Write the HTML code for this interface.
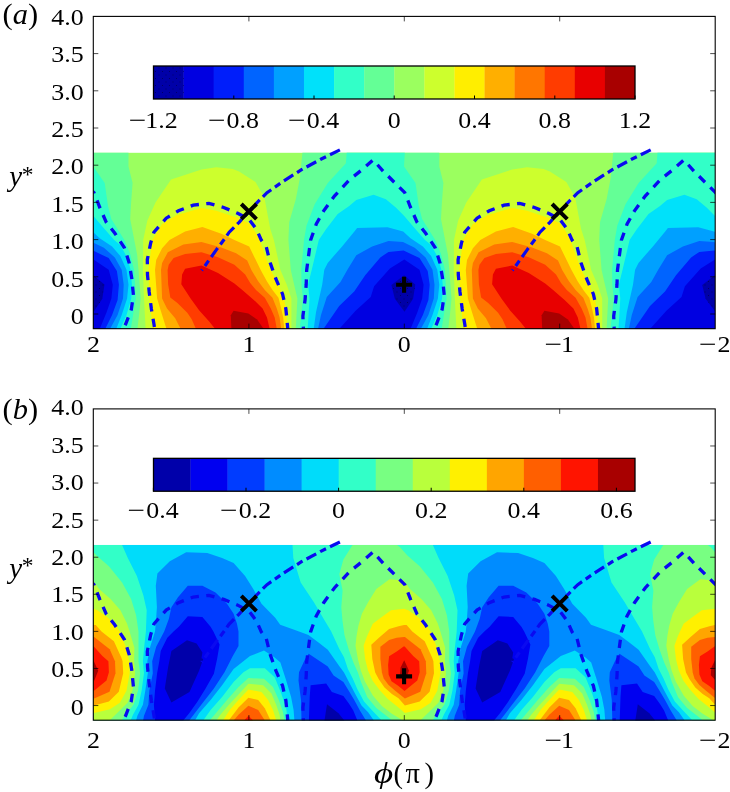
<!DOCTYPE html>
<html><head><meta charset="utf-8"><title>figure</title>
<style>
html,body{margin:0;padding:0;background:#fff}
svg{display:block}
text{font-family:"Liberation Serif","DejaVu Serif",serif;font-size:24px;fill:#000}
.big{font-size:28.5px}
.it{font-style:italic}
.dsh{fill:none;stroke:#0a0af0;stroke-width:3.3;stroke-dasharray:8.4 7.4}
.dd{fill:none;stroke:#0a0af0;stroke-width:3.2;stroke-dasharray:11 4.5 6.5 4.5}
.mk{fill:none;stroke:#000;stroke-width:4}
.mk2{fill:none;stroke:#000;stroke-width:4.1}
</style></head><body>
<svg width="730" height="792" viewBox="0 0 730 792">
<defs>
<pattern id="dots" width="7" height="7" patternUnits="userSpaceOnUse"><rect width="7" height="7" fill="#0000a8"/><rect x="1" y="1" width="1" height="1" fill="#000068"/><rect x="4.5" y="4.5" width="1" height="1" fill="#000068"/></pattern>
<pattern id="dots2" width="7" height="7" patternUnits="userSpaceOnUse"><rect x="1" y="1" width="1" height="1" fill="#000068"/><rect x="4.5" y="4.5" width="1" height="1" fill="#000068"/></pattern>
<clipPath id="clipA"><rect x="93.5" y="146.8" width="621.5" height="182.2"/></clipPath>
</defs>
<rect width="730" height="792" fill="#fff"/>
<text transform="translate(2.6 24.2) scale(1.07 1)" class="big">(<tspan class="it">a</tspan>)</text>
<text transform="translate(2.6 418.6) scale(1.07 1)" class="big">(<tspan class="it">b</tspan>)</text>
<g id="panelA">
<g clip-path="url(#clipA)">
<rect x="93" y="152.8" width="622.5" height="176.2" fill="#9bff5f"/>
<polygon fill="#64ff96" points="-8.4,152.8 -10.9,177.9 -15.0,199.3 -21.6,222.3 -22.4,240.1 -20.0,270.0 -16.7,284.4 -13.4,298.5 -15.0,329.0 137.4,329.0 139.2,314.0 140.7,298.5 138.5,270.0 137.2,255.0 134.3,240.1 130.2,219.0 131.0,204.2 132.6,182.9 128.5,166.4 128.5,152.8"/>
<polygon fill="#32ffc8" points="35.9,152.8 35.1,163.2 17.0,182.9 3.9,204.2 -4.3,225.6 -6.8,240.1 -9.5,270.0 -9.3,284.4 -7.9,298.5 -11.1,329.0 130.8,329.0 133.2,314.0 135.8,298.5 134.1,270.0 130.2,254.0 124.4,240.1 111.3,219.0 108.0,205.9 104.7,182.9 93.2,166.4 94.0,152.8"/>
<polygon fill="#64ff96" points="302.4,152.8 299.9,177.9 295.8,199.3 289.2,222.3 288.4,240.1 290.8,270.0 294.1,284.4 297.4,298.5 295.8,329.0 448.2,329.0 450.0,314.0 451.5,298.5 449.3,270.0 448.0,255.0 445.1,240.1 441.0,219.0 441.8,204.2 443.4,182.9 439.3,166.4 439.3,152.8"/>
<polygon fill="#32ffc8" points="346.7,152.8 345.9,163.2 327.8,182.9 314.7,204.2 306.5,225.6 304.0,240.1 301.3,270.0 301.5,284.4 302.9,298.5 299.7,329.0 441.6,329.0 444.0,314.0 446.6,298.5 444.9,270.0 441.0,254.0 435.2,240.1 422.1,219.0 418.8,205.9 415.5,182.9 404.0,166.4 404.8,152.8"/>
<polygon fill="#64ff96" points="613.2,152.8 610.7,177.9 606.6,199.3 600.0,222.3 599.2,240.1 601.6,270.0 604.9,284.4 608.2,298.5 606.6,329.0 759.0,329.0 760.8,314.0 762.3,298.5 760.1,270.0 758.8,255.0 755.9,240.1 751.8,219.0 752.6,204.2 754.2,182.9 750.1,166.4 750.1,152.8"/>
<polygon fill="#32ffc8" points="657.5,152.8 656.7,163.2 638.6,182.9 625.5,204.2 617.3,225.6 614.8,240.1 612.1,270.0 612.3,284.4 613.7,298.5 610.5,329.0 752.4,329.0 754.8,314.0 757.4,298.5 755.7,270.0 751.8,254.0 746.0,240.1 732.9,219.0 729.6,205.9 726.3,182.9 714.8,166.4 715.6,152.8"/>
<polygon fill="#cdff2d" points="145.6,329.0 144.0,298.5 142.9,270.0 143.2,240.1 147.3,220.7 155.5,202.6 171.1,179.6 201.5,169.4 216.3,167.3 232.8,168.9 239.1,171.4 255.5,182.1 264.5,197.7 267.8,215.8 270.3,228.9 273.9,240.1 280.4,270.0 286.7,284.4 291.4,298.5 291.4,329.0"/>
<polygon fill="#ffee00" points="152.8,329.0 151.1,313.8 149.5,298.5 148.4,270.0 152.2,240.1 162.1,224.0 176.9,214.9 201.5,207.9 216.3,210.8 231.1,215.8 239.1,218.2 248.9,223.2 255.5,232.2 259.6,240.1 270.6,270.0 278.5,284.4 282.2,295.0 284.5,301.0 286.4,311.9 287.3,329.0"/>
<polygon fill="#ffaf00" points="166.5,329.0 161.0,311.6 157.1,298.5 155.0,270.0 156.2,260.0 162.1,248.2 169.5,240.1 185.1,231.4 202.4,226.9 221.3,233.8 234.4,240.1 249.2,246.6 260.7,270.0 267.0,281.5 272.5,290.0 278.5,297.7 281.2,308.6 283.2,317.4 284.3,329.0"/>
<polygon fill="#ff7600" points="180.7,329.0 175.2,318.2 167.0,308.4 162.1,298.5 161.0,270.0 162.1,263.0 167.8,252.3 183.4,244.6 201.5,242.0 221.3,247.4 236.1,253.2 247.2,260.5 251.4,270.0 258.0,281.0 264.8,290.0 272.5,297.7 276.8,308.6 279.6,317.4 281.2,329.0"/>
<polygon fill="#ff3c00" points="196.0,329.0 191.7,319.3 187.3,312.7 177.4,302.9 170.3,297.4 168.1,284.2 167.6,270.0 168.7,264.7 173.6,258.1 185.1,254.0 201.5,252.3 218.0,257.3 234.4,264.7 245.2,274.5 250.2,283.0 256.0,290.0 264.8,297.7 270.8,308.6 274.7,317.4 276.8,329.0"/>
<polygon fill="#e80000" points="215.2,329.0 209.2,321.5 199.3,310.5 190.6,298.5 181.3,284.2 182.1,274.5 185.1,268.8 201.5,265.5 218.0,272.9 234.4,283.6 242.3,290.0 253.8,299.9 262.6,308.6 267.0,317.4 269.7,329.0"/>
<polygon fill="#a80000" points="231.4,329.0 230.8,315.2 233.6,310.8 248.4,313.6 257.1,319.6 263.7,329.0"/>
<polygon fill="#cdff2d" points="456.4,329.0 454.8,298.5 453.7,270.0 454.0,240.1 458.1,220.7 466.3,202.6 481.9,179.6 512.3,169.4 527.1,167.3 543.6,168.9 549.9,171.4 566.3,182.1 575.3,197.7 578.6,215.8 581.1,228.9 584.7,240.1 591.2,270.0 597.5,284.4 602.2,298.5 602.2,329.0"/>
<polygon fill="#ffee00" points="463.6,329.0 461.9,313.8 460.3,298.5 459.2,270.0 463.0,240.1 472.9,224.0 487.7,214.9 512.3,207.9 527.1,210.8 541.9,215.8 549.9,218.2 559.7,223.2 566.3,232.2 570.4,240.1 581.4,270.0 589.3,284.4 593.0,295.0 595.3,301.0 597.2,311.9 598.1,329.0"/>
<polygon fill="#ffaf00" points="477.3,329.0 471.8,311.6 467.9,298.5 465.8,270.0 467.0,260.0 472.9,248.2 480.3,240.1 495.9,231.4 513.2,226.9 532.1,233.8 545.2,240.1 560.0,246.6 571.5,270.0 577.8,281.5 583.3,290.0 589.3,297.7 592.0,308.6 594.0,317.4 595.1,329.0"/>
<polygon fill="#ff7600" points="491.5,329.0 486.0,318.2 477.8,308.4 472.9,298.5 471.8,270.0 472.9,263.0 478.6,252.3 494.2,244.6 512.3,242.0 532.1,247.4 546.9,253.2 558.0,260.5 562.2,270.0 568.8,281.0 575.6,290.0 583.3,297.7 587.6,308.6 590.4,317.4 592.0,329.0"/>
<polygon fill="#ff3c00" points="506.8,329.0 502.5,319.3 498.1,312.7 488.2,302.9 481.1,297.4 478.9,284.2 478.4,270.0 479.5,264.7 484.4,258.1 495.9,254.0 512.3,252.3 528.8,257.3 545.2,264.7 556.0,274.5 561.0,283.0 566.8,290.0 575.6,297.7 581.6,308.6 585.5,317.4 587.6,329.0"/>
<polygon fill="#e80000" points="526.0,329.0 520.0,321.5 510.1,310.5 501.4,298.5 492.1,284.2 492.9,274.5 495.9,268.8 512.3,265.5 528.8,272.9 545.2,283.6 553.1,290.0 564.6,299.9 573.4,308.6 577.8,317.4 580.5,329.0"/>
<polygon fill="#a80000" points="542.2,329.0 541.6,315.2 544.4,310.8 559.2,313.6 567.9,319.6 574.5,329.0"/>
<polygon fill="#00e1fa" points="-3.1,329.0 -1.3,298.5 -2.7,284.4 0.9,270.0 8.0,240.1 15.4,228.9 26.9,214.1 38.4,205.9 45.5,200.1 62.8,194.7 75.1,199.3 85.0,207.5 93.2,215.8 103.0,227.3 114.2,240.1 120.3,245.1 127.1,257.4 130.6,269.7 131.9,284.8 131.3,298.5 126.5,314.9 120.3,329.0"/>
<polygon fill="#00a0ff" points="2.9,329.0 5.2,312.2 11.4,284.8 13.5,269.7 16.9,262.9 31.3,246.4 43.6,231.4 46.3,228.1 76.7,227.3 92.4,231.4 99.7,238.2 112.1,246.4 120.3,256.0 126.5,269.7 128.5,284.8 127.1,298.5 121.7,314.9 116.2,329.0"/>
<polygon fill="#0064ff" points="7.2,329.0 10.2,315.0 16.0,297.1 29.7,282.1 36.6,269.7 45.5,255.3 61.3,246.4 77.7,241.0 92.2,242.0 103.9,247.8 114.8,257.4 121.7,269.7 123.7,284.8 123.0,298.5 117.6,314.9 110.0,329.0"/>
<polygon fill="#001efa" points="12.6,329.0 28.4,306.0 43.4,291.6 54.4,275.2 69.5,257.4 77.7,251.9 92.8,250.5 108.7,258.1 116.9,271.1 118.9,284.8 117.6,299.9 112.1,314.9 105.2,329.0"/>
<polygon fill="#0000e1" points="28.4,329.0 44.8,310.8 59.9,297.1 63.3,286.2 79.1,268.4 93.5,259.5 108.7,269.7 112.8,284.8 111.4,298.5 106.6,312.2 99.7,329.0"/>
<polygon fill="url(#dots)" points="80.6,285.0 93.3,275.2 104.5,284.6 102.3,298.8 93.7,311.7 84.0,298.8"/>
<polygon fill="#00e1fa" points="307.7,329.0 309.5,298.5 308.1,284.4 311.7,270.0 318.8,240.1 326.2,228.9 337.7,214.1 349.2,205.9 356.3,200.1 373.6,194.7 385.9,199.3 395.8,207.5 404.0,215.8 413.8,227.3 425.0,240.1 431.1,245.1 437.9,257.4 441.4,269.7 442.7,284.8 442.1,298.5 437.3,314.9 431.1,329.0"/>
<polygon fill="#00a0ff" points="313.7,329.0 316.0,312.2 322.2,284.8 324.3,269.7 327.7,262.9 342.1,246.4 354.4,231.4 357.1,228.1 387.5,227.3 403.2,231.4 410.5,238.2 422.9,246.4 431.1,256.0 437.3,269.7 439.3,284.8 437.9,298.5 432.5,314.9 427.0,329.0"/>
<polygon fill="#0064ff" points="318.0,329.0 321.0,315.0 326.8,297.1 340.5,282.1 347.4,269.7 356.3,255.3 372.1,246.4 388.5,241.0 403.0,242.0 414.7,247.8 425.6,257.4 432.5,269.7 434.5,284.8 433.8,298.5 428.4,314.9 420.8,329.0"/>
<polygon fill="#001efa" points="323.4,329.0 339.2,306.0 354.2,291.6 365.2,275.2 380.3,257.4 388.5,251.9 403.6,250.5 419.5,258.1 427.7,271.1 429.7,284.8 428.4,299.9 422.9,314.9 416.0,329.0"/>
<polygon fill="#0000e1" points="339.2,329.0 355.6,310.8 370.7,297.1 374.1,286.2 389.9,268.4 404.3,259.5 419.5,269.7 423.6,284.8 422.2,298.5 417.4,312.2 410.5,329.0"/>
<polygon fill="url(#dots)" points="391.4,285.0 404.1,275.2 415.3,284.6 413.1,298.8 404.5,311.7 394.8,298.8"/>
<polygon fill="#00e1fa" points="618.5,329.0 620.3,298.5 618.9,284.4 622.5,270.0 629.6,240.1 637.0,228.9 648.5,214.1 660.0,205.9 667.1,200.1 684.4,194.7 696.7,199.3 706.6,207.5 714.8,215.8 724.6,227.3 735.8,240.1 741.9,245.1 748.7,257.4 752.2,269.7 753.5,284.8 752.9,298.5 748.1,314.9 741.9,329.0"/>
<polygon fill="#00a0ff" points="624.5,329.0 626.8,312.2 633.0,284.8 635.1,269.7 638.5,262.9 652.9,246.4 665.2,231.4 667.9,228.1 698.3,227.3 714.0,231.4 721.3,238.2 733.7,246.4 741.9,256.0 748.1,269.7 750.1,284.8 748.7,298.5 743.3,314.9 737.8,329.0"/>
<polygon fill="#0064ff" points="628.8,329.0 631.8,315.0 637.6,297.1 651.3,282.1 658.2,269.7 667.1,255.3 682.9,246.4 699.3,241.0 713.8,242.0 725.5,247.8 736.4,257.4 743.3,269.7 745.3,284.8 744.6,298.5 739.2,314.9 731.6,329.0"/>
<polygon fill="#001efa" points="634.2,329.0 650.0,306.0 665.0,291.6 676.0,275.2 691.1,257.4 699.3,251.9 714.4,250.5 730.3,258.1 738.5,271.1 740.5,284.8 739.2,299.9 733.7,314.9 726.8,329.0"/>
<polygon fill="#0000e1" points="650.0,329.0 666.4,310.8 681.5,297.1 684.9,286.2 700.7,268.4 715.1,259.5 730.3,269.7 734.4,284.8 733.0,298.5 728.2,312.2 721.3,329.0"/>
<polygon fill="url(#dots)" points="702.2,285.0 714.9,275.2 726.1,284.6 723.9,298.8 715.3,311.7 705.6,298.8"/>
<polyline class="dsh" stroke-dashoffset="13.8" points="154.7,329.0 153.9,323.8 151.4,309.0 149.2,292.0 147.5,275.0 147.3,259.7 150.6,243.3 153.9,232.2 166.2,218.2 178.5,210.8 193.3,205.1 208.9,203.4 223.7,207.5 237.7,213.3 249.2,219.5 256.3,228.9 261.3,240.1 266.2,246.6 270.3,263.0 276.1,279.5 282.6,294.2 285.9,309.0 287.8,329.0"/>
<polyline class="dd" points="339.9,149.9 321.3,159.0 301.5,169.7 283.4,181.2 267.0,192.7 257.1,202.6 248.9,211.6 239.1,222.3 229.2,232.2 223.7,240.0 216.3,249.9 208.1,261.4 201.7,270.5"/>
<polyline class="dsh" stroke-dashoffset="13.8" points="465.5,329.0 464.7,323.8 462.2,309.0 460.0,292.0 458.3,275.0 458.1,259.7 461.4,243.3 464.7,232.2 477.0,218.2 489.3,210.8 504.1,205.1 519.7,203.4 534.5,207.5 548.5,213.3 560.0,219.5 567.1,228.9 572.1,240.1 577.0,246.6 581.1,263.0 586.9,279.5 593.4,294.2 596.7,309.0 598.6,329.0"/>
<polyline class="dd" points="650.7,149.9 632.1,159.0 612.3,169.7 594.2,181.2 577.8,192.7 567.9,202.6 559.7,211.6 549.9,222.3 540.0,232.2 534.5,240.0 527.1,249.9 518.9,261.4 512.5,270.5"/>
<polyline class="dsh" stroke-dashoffset="6" points="-7.4,329.0 -7.9,316.0 -5.7,299.6 -4.6,284.2 -4.1,270.0 -0.2,240.1 5.5,224.0 12.9,210.8 23.6,196.0 38.9,179.6 51.3,169.7 62.3,159.9 72.6,171.4 84.1,182.9 94.0,192.7 99.8,207.5 106.3,222.3 114.7,233.0 124.4,247.8 129.2,262.9 131.7,277.9 133.4,295.0 131.3,309.5 125.7,324.0 123.2,329.0"/>
<polyline class="dsh" stroke-dashoffset="6" points="303.4,329.0 302.9,316.0 305.1,299.6 306.2,284.2 306.7,270.0 310.6,240.1 316.3,224.0 323.7,210.8 334.4,196.0 349.7,179.6 362.1,169.7 373.1,159.9 383.4,171.4 394.9,182.9 404.8,192.7 410.6,207.5 417.1,222.3 425.5,233.0 435.2,247.8 440.0,262.9 442.5,277.9 444.2,295.0 442.1,309.5 436.5,324.0 434.0,329.0"/>
<polyline class="dsh" stroke-dashoffset="6" points="614.2,329.0 613.7,316.0 615.9,299.6 617.0,284.2 617.5,270.0 621.4,240.1 627.1,224.0 634.5,210.8 645.2,196.0 660.5,179.6 672.9,169.7 683.9,159.9 694.2,171.4 705.7,182.9 715.6,192.7 721.4,207.5 727.9,222.3 736.3,233.0 746.0,247.8 750.8,262.9 753.3,277.9 755.0,295.0 752.9,309.5 747.3,324.0 744.8,329.0"/>
<path class="mk" d="M241.3 204.0L256.5 219.2M241.3 219.2L256.5 204.0"/>
<path class="mk" d="M552.1 204.0L567.3 219.2M552.1 219.2L567.3 204.0"/>
<path class="mk2" d="M396.1 284.7L412.1 284.7M404.1 276.7L404.1 292.7"/>
</g>
<rect x="153.50" y="66.0" width="30.39" height="33.0" fill="#0000a8"/>
<rect x="183.59" y="66.0" width="30.39" height="33.0" fill="#0000e1"/>
<rect x="213.69" y="66.0" width="30.39" height="33.0" fill="#001efa"/>
<rect x="243.78" y="66.0" width="30.39" height="33.0" fill="#0064ff"/>
<rect x="273.88" y="66.0" width="30.39" height="33.0" fill="#00a0ff"/>
<rect x="303.97" y="66.0" width="30.39" height="33.0" fill="#00e1fa"/>
<rect x="334.06" y="66.0" width="30.39" height="33.0" fill="#32ffc8"/>
<rect x="364.16" y="66.0" width="30.39" height="33.0" fill="#64ff96"/>
<rect x="394.25" y="66.0" width="30.39" height="33.0" fill="#9bff5f"/>
<rect x="424.34" y="66.0" width="30.39" height="33.0" fill="#cdff2d"/>
<rect x="454.44" y="66.0" width="30.39" height="33.0" fill="#ffee00"/>
<rect x="484.53" y="66.0" width="30.39" height="33.0" fill="#ffaf00"/>
<rect x="514.62" y="66.0" width="30.39" height="33.0" fill="#ff7600"/>
<rect x="544.72" y="66.0" width="30.39" height="33.0" fill="#ff3c00"/>
<rect x="574.81" y="66.0" width="30.39" height="33.0" fill="#e80000"/>
<rect x="604.91" y="66.0" width="30.09" height="33.0" fill="#a80000"/>
<rect x="153.50" y="66.0" width="30.09" height="33.0" fill="url(#dots2)"/>
<rect x="153.5" y="66.0" width="481.5" height="33.0" fill="none" stroke="#000" stroke-width="1.3"/>
<text transform="translate(128.7 127.7) scale(1.3 1)">−</text><text transform="translate(145.2 127.7) scale(1.080 1)">1.2</text>
<text transform="translate(207.9 127.7) scale(1.3 1)">−</text><text transform="translate(226.6 127.7) scale(1.080 1)">0.8</text>
<text transform="translate(288.1 127.7) scale(1.3 1)">−</text><text transform="translate(306.8 127.7) scale(1.080 1)">0.4</text>
<text transform="translate(394.2 127.7) scale(1.080 1)" text-anchor="middle">0</text>
<text transform="translate(474.5 127.7) scale(1.080 1)" text-anchor="middle">0.4</text>
<text transform="translate(554.8 127.7) scale(1.080 1)" text-anchor="middle">0.8</text>
<text transform="translate(635.0 127.7) scale(1.080 1)" text-anchor="middle">1.2</text>
<path d="M153.5 99.0v-3.5M233.8 99.0v-3.5M314.0 99.0v-3.5M394.2 99.0v-3.5M474.5 99.0v-3.5M554.8 99.0v-3.5M635.0 99.0v-3.5" stroke="#000" stroke-width="1" fill="none"/>
<rect x="93.3" y="16.4" width="621.9" height="312.3" fill="none" stroke="#000" stroke-width="1.1"/>
<path d="M93.3 53.6h5M715.2 53.6h-5M93.3 90.8h5M715.2 90.8h-5M93.3 128.0h5M715.2 128.0h-5M93.3 165.2h5M715.2 165.2h-5M93.3 202.4h5M715.2 202.4h-5M93.3 239.6h5M715.2 239.6h-5M93.3 276.8h5M715.2 276.8h-5M93.3 314.0h5M715.2 314.0h-5M248.9 328.6v-5M248.9 16.4v5M404.3 328.6v-5M404.3 16.4v5M559.7 328.6v-5M559.7 16.4v5" stroke="#000" stroke-width="0.7" fill="none"/>
</g>
<g id="panelB" transform="translate(0 408.9) scale(1 0.9968) translate(0 -16.4)">
<g clip-path="url(#clipA)">
<rect x="93" y="152.9" width="622.5" height="176.1" fill="#00dcfa"/>
<polygon fill="#008cff" points="136.1,329.0 137.4,324.3 142.9,313.3 145.3,299.1 147.8,281.6 147.3,269.5 150.2,255.0 155.0,239.6 155.8,231.7 156.9,215.3 155.8,193.9 157.4,181.6 169.8,169.2 186.2,160.2 207.3,161.0 222.1,165.9 233.6,170.9 245.1,184.0 253.3,197.2 261.5,212.0 275.2,226.0 280.2,233.0 294.2,238.0 308.5,243.3 318.2,250.5 327.8,258.0 339.2,274.2 344.0,280.9 349.2,291.0 355.8,303.3 361.5,314.0 368.1,320.6 373.9,329.0"/>
<polygon fill="#003cff" points="143.1,329.0 144.0,324.3 148.4,313.3 149.3,299.1 152.8,281.6 152.2,269.5 156.2,255.0 164.2,239.6 168.9,226.8 171.4,215.3 178.0,205.4 187.8,193.9 202.4,193.9 215.5,200.5 227.0,212.0 233.6,221.8 236.9,231.7 238.5,239.6 238.5,254.3 232.8,264.2 224.5,280.6 213.9,297.0 202.4,311.8 189.2,329.0"/>
<polygon fill="#003cff" points="301.5,329.0 301.0,308.5 298.5,288.8 299.0,280.6 304.8,268.0 308.7,262.0 327.8,274.8 333.6,283.9 343.4,290.5 349.2,300.0 354.1,308.3 359.9,318.9 366.0,329.0"/>
<polygon fill="#0000f0" points="155.0,329.0 153.9,313.3 155.0,299.1 157.1,281.6 159.3,269.5 160.7,259.2 167.3,246.1 173.8,239.5 178.8,235.0 187.8,224.3 202.4,225.1 210.6,235.0 213.4,239.6 219.6,252.7 217.1,267.4 213.9,282.2 205.6,297.0 197.4,310.2 189.2,321.7 183.2,329.0"/>
<polygon fill="#0000f0" points="308.9,329.0 309.7,305.3 310.6,293.7 326.2,291.8 331.9,300.3 343.4,304.4 349.2,312.4 353.3,318.9 357.4,329.0"/>
<polygon fill="#0000aa" points="171.4,259.2 187.0,248.5 196.6,251.8 202.4,260.9 201.5,266.6 203.2,267.4 199.1,279.0 192.5,293.7 189.5,300.3 171.4,311.0 164.8,297.0 168.1,275.7"/>
<polygon fill="#0000aa" points="324.5,329.0 327.0,312.7 338.5,321.7 344.3,329.0"/>
<polygon fill="#00dcfa" points="195.0,329.0 199.1,321.7 210.6,308.5 222.1,293.7 233.6,277.3 250.0,264.2 264.0,258.9 274.7,265.8 280.4,270.7 286.2,288.8 291.1,305.3 293.6,318.4 294.4,329.0"/>
<polygon fill="#32ffc8" points="203.2,329.0 210.6,318.4 222.1,305.3 233.6,290.5 243.4,280.6 250.0,276.5 264.8,276.5 274.7,285.5 281.3,302.0 286.2,316.8 287.8,329.0"/>
<polygon fill="#78ff82" points="209.7,329.0 217.1,320.1 227.0,308.5 238.5,295.4 248.4,286.4 264.0,287.2 273.0,295.4 278.8,308.5 282.9,320.1 284.5,329.0"/>
<polygon fill="#b9ff3c" points="216.3,329.0 220.4,323.3 228.7,313.5 238.5,302.8 248.4,292.1 263.2,293.7 271.4,302.0 276.3,313.5 279.6,323.3 280.4,329.0"/>
<polygon fill="#fff000" points="222.9,329.0 230.3,317.6 238.5,308.5 248.4,297.9 261.5,300.3 268.1,308.5 273.0,318.4 276.3,329.0"/>
<polygon fill="#ffa500" points="228.7,329.0 238.5,315.9 248.4,306.1 258.2,308.5 264.8,316.8 270.6,329.0"/>
<polygon fill="#ff5f00" points="233.6,329.0 238.5,323.3 248.4,314.3 258.2,318.4 264.8,329.0"/>
<polygon fill="#ff1400" points="244.2,329.0 248.4,324.2 253.2,329.0"/>
<polygon fill="#008cff" points="446.9,329.0 448.2,324.3 453.7,313.3 456.1,299.1 458.6,281.6 458.1,269.5 461.0,255.0 465.8,239.6 466.6,231.7 467.7,215.3 466.6,193.9 468.2,181.6 480.6,169.2 497.0,160.2 518.1,161.0 532.9,165.9 544.4,170.9 555.9,184.0 564.1,197.2 572.3,212.0 586.0,226.0 591.0,233.0 605.0,238.0 619.3,243.3 629.0,250.5 638.6,258.0 650.0,274.2 654.8,280.9 660.0,291.0 666.6,303.3 672.3,314.0 678.9,320.6 684.7,329.0"/>
<polygon fill="#003cff" points="453.9,329.0 454.8,324.3 459.2,313.3 460.1,299.1 463.6,281.6 463.0,269.5 467.0,255.0 475.0,239.6 479.7,226.8 482.2,215.3 488.8,205.4 498.6,193.9 513.2,193.9 526.3,200.5 537.8,212.0 544.4,221.8 547.7,231.7 549.3,239.6 549.3,254.3 543.6,264.2 535.3,280.6 524.7,297.0 513.2,311.8 500.0,329.0"/>
<polygon fill="#003cff" points="612.3,329.0 611.8,308.5 609.3,288.8 609.8,280.6 615.6,268.0 619.5,262.0 638.6,274.8 644.4,283.9 654.2,290.5 660.0,300.0 664.9,308.3 670.7,318.9 676.8,329.0"/>
<polygon fill="#0000f0" points="465.8,329.0 464.7,313.3 465.8,299.1 467.9,281.6 470.1,269.5 471.5,259.2 478.1,246.1 484.6,239.5 489.6,235.0 498.6,224.3 513.2,225.1 521.4,235.0 524.2,239.6 530.4,252.7 527.9,267.4 524.7,282.2 516.4,297.0 508.2,310.2 500.0,321.7 494.0,329.0"/>
<polygon fill="#0000f0" points="619.7,329.0 620.5,305.3 621.4,293.7 637.0,291.8 642.7,300.3 654.2,304.4 660.0,312.4 664.1,318.9 668.2,329.0"/>
<polygon fill="#0000aa" points="482.2,259.2 497.8,248.5 507.4,251.8 513.2,260.9 512.3,266.6 514.0,267.4 509.9,279.0 503.3,293.7 500.3,300.3 482.2,311.0 475.6,297.0 478.9,275.7"/>
<polygon fill="#0000aa" points="635.3,329.0 637.8,312.7 649.3,321.7 655.1,329.0"/>
<polygon fill="#00dcfa" points="505.8,329.0 509.9,321.7 521.4,308.5 532.9,293.7 544.4,277.3 560.8,264.2 574.8,258.9 585.5,265.8 591.2,270.7 597.0,288.8 601.9,305.3 604.4,318.4 605.2,329.0"/>
<polygon fill="#32ffc8" points="514.0,329.0 521.4,318.4 532.9,305.3 544.4,290.5 554.2,280.6 560.8,276.5 575.6,276.5 585.5,285.5 592.1,302.0 597.0,316.8 598.6,329.0"/>
<polygon fill="#78ff82" points="520.5,329.0 527.9,320.1 537.8,308.5 549.3,295.4 559.2,286.4 574.8,287.2 583.8,295.4 589.6,308.5 593.7,320.1 595.3,329.0"/>
<polygon fill="#b9ff3c" points="527.1,329.0 531.2,323.3 539.5,313.5 549.3,302.8 559.2,292.1 574.0,293.7 582.2,302.0 587.1,313.5 590.4,323.3 591.2,329.0"/>
<polygon fill="#fff000" points="533.7,329.0 541.1,317.6 549.3,308.5 559.2,297.9 572.3,300.3 578.9,308.5 583.8,318.4 587.1,329.0"/>
<polygon fill="#ffa500" points="539.5,329.0 549.3,315.9 559.2,306.1 569.0,308.5 575.6,316.8 581.4,329.0"/>
<polygon fill="#ff5f00" points="544.4,329.0 549.3,323.3 559.2,314.3 569.0,318.4 575.6,329.0"/>
<polygon fill="#ff1400" points="555.0,329.0 559.2,324.2 564.0,329.0"/>
<polygon fill="#32ffc8" points="-18.3,152.9 -17.5,165.9 -10.1,190.6 3.1,210.3 13.7,228.4 20.3,239.5 28.4,256.9 33.2,265.5 37.0,277.0 41.8,286.6 46.6,297.6 53.2,309.9 61.4,318.9 70.9,329.0 130.6,329.0 133.0,323.2 138.5,313.3 141.6,299.1 144.0,281.6 142.9,269.5 144.2,255.0 145.9,239.6 146.7,218.5 143.4,203.7 136.9,184.0 127.8,165.9 122.1,152.9"/>
<polygon fill="#78ff82" points="41.7,152.9 32.6,167.6 28.5,182.4 31.8,198.8 30.5,215.3 31.7,229.1 33.7,243.5 38.0,257.9 42.8,271.3 47.1,280.9 50.2,290.5 56.5,305.8 65.5,316.5 78.7,326.7 81.2,329.0 121.5,329.0 126.5,322.1 133.6,313.3 138.0,299.1 140.2,281.6 138.5,269.5 138.5,255.0 138.5,239.6 136.1,223.5 131.1,207.0 122.1,190.6 108.9,174.2 96.6,163.5 89.2,155.3 86.2,152.9"/>
<polygon fill="#b9ff3c" points="93.2,188.5 78.7,187.3 65.5,197.2 57.3,210.3 51.1,222.0 47.6,233.9 45.7,244.4 44.7,254.0 47.1,267.4 50.0,278.9 54.1,290.0 62.2,304.2 71.3,314.8 81.1,322.2 88.5,326.7 91.7,329.0 109.5,329.0 117.7,321.0 127.6,311.1 132.5,299.1 135.2,281.6 134.1,269.5 134.4,255.9 129.5,239.5 127.0,231.7 120.4,218.5 110.6,207.0 99.1,197.2"/>
<polygon fill="#fff000" points="93.2,216.9 80.3,218.5 70.6,225.5 62.0,232.0 56.2,244.4 52.8,254.0 54.3,267.4 57.2,278.9 61.8,289.0 68.8,298.4 77.0,307.4 86.1,314.8 94.1,321.5 110.0,317.7 119.9,311.1 126.5,299.1 129.7,281.6 129.2,269.5 126.2,255.9 119.6,239.5 115.5,233.3 107.3,225.1 97.4,218.5"/>
<polygon fill="#ffa500" points="93.2,233.3 87.8,234.4 78.3,237.2 68.7,245.4 60.5,253.1 61.5,267.4 64.4,280.9 68.0,287.7 73.7,295.9 81.1,302.5 87.7,306.6 94.1,314.0 108.9,310.0 118.8,300.2 123.2,281.6 122.6,269.5 121.3,265.8 113.9,249.4 101.5,239.6 95.8,233.3"/>
<polygon fill="#ff5f00" points="93.2,245.3 85.9,245.9 78.3,248.3 69.6,255.0 69.6,267.4 71.1,280.9 72.9,286.9 77.8,293.5 84.4,299.2 94.1,307.0 109.5,300.2 115.5,281.6 115.0,269.5 109.7,257.6 94.1,245.3"/>
<polygon fill="#ff1400" points="93.2,254.5 85.9,259.8 78.3,264.6 77.3,273.2 77.8,282.8 80.7,289.5 87.7,294.3 93.7,299.5 106.5,288.8 108.9,280.6 108.4,269.5 102.4,264.2 94.1,255.1"/>
<polygon fill="#a80000" points="93.4,268.5 98.2,279.0 94.2,289.0 89.2,283.5 89.7,276.0"/>
<polygon fill="#32ffc8" points="292.5,152.9 293.3,165.9 300.7,190.6 313.9,210.3 324.5,228.4 331.1,239.5 339.2,256.9 344.0,265.5 347.8,277.0 352.6,286.6 357.4,297.6 364.0,309.9 372.2,318.9 381.7,329.0 441.4,329.0 443.8,323.2 449.3,313.3 452.4,299.1 454.8,281.6 453.7,269.5 455.0,255.0 456.7,239.6 457.5,218.5 454.2,203.7 447.7,184.0 438.6,165.9 432.9,152.9"/>
<polygon fill="#78ff82" points="352.5,152.9 343.4,167.6 339.3,182.4 342.6,198.8 341.3,215.3 342.5,229.1 344.5,243.5 348.8,257.9 353.6,271.3 357.9,280.9 361.0,290.5 367.3,305.8 376.3,316.5 389.5,326.7 392.0,329.0 432.3,329.0 437.3,322.1 444.4,313.3 448.8,299.1 451.0,281.6 449.3,269.5 449.3,255.0 449.3,239.6 446.9,223.5 441.9,207.0 432.9,190.6 419.7,174.2 407.4,163.5 400.0,155.3 397.0,152.9"/>
<polygon fill="#b9ff3c" points="404.0,188.5 389.5,187.3 376.3,197.2 368.1,210.3 361.9,222.0 358.4,233.9 356.5,244.4 355.5,254.0 357.9,267.4 360.8,278.9 364.9,290.0 373.0,304.2 382.1,314.8 391.9,322.2 399.3,326.7 402.5,329.0 420.3,329.0 428.5,321.0 438.4,311.1 443.3,299.1 446.0,281.6 444.9,269.5 445.2,255.9 440.3,239.5 437.8,231.7 431.2,218.5 421.4,207.0 409.9,197.2"/>
<polygon fill="#fff000" points="404.0,216.9 391.1,218.5 381.4,225.5 372.8,232.0 367.0,244.4 363.6,254.0 365.1,267.4 368.0,278.9 372.6,289.0 379.6,298.4 387.8,307.4 396.9,314.8 404.9,321.5 420.8,317.7 430.7,311.1 437.3,299.1 440.5,281.6 440.0,269.5 437.0,255.9 430.4,239.5 426.3,233.3 418.1,225.1 408.2,218.5"/>
<polygon fill="#ffa500" points="404.0,233.3 398.6,234.4 389.1,237.2 379.5,245.4 371.3,253.1 372.3,267.4 375.2,280.9 378.8,287.7 384.5,295.9 391.9,302.5 398.5,306.6 404.9,314.0 419.7,310.0 429.6,300.2 434.0,281.6 433.4,269.5 432.1,265.8 424.7,249.4 412.3,239.6 406.6,233.3"/>
<polygon fill="#ff5f00" points="404.0,245.3 396.7,245.9 389.1,248.3 380.4,255.0 380.4,267.4 381.9,280.9 383.7,286.9 388.6,293.5 395.2,299.2 404.9,307.0 420.3,300.2 426.3,281.6 425.8,269.5 420.5,257.6 404.9,245.3"/>
<polygon fill="#ff1400" points="404.0,254.5 396.7,259.8 389.1,264.6 388.1,273.2 388.6,282.8 391.5,289.5 398.5,294.3 404.5,299.5 417.3,288.8 419.7,280.6 419.2,269.5 413.2,264.2 404.9,255.1"/>
<polygon fill="#a80000" points="404.2,268.5 409.0,279.0 405.0,289.0 400.0,283.5 400.5,276.0"/>
<polygon fill="#32ffc8" points="603.3,152.9 604.1,165.9 611.5,190.6 624.7,210.3 635.3,228.4 641.9,239.5 650.0,256.9 654.8,265.5 658.6,277.0 663.4,286.6 668.2,297.6 674.8,309.9 683.0,318.9 692.5,329.0 752.2,329.0 754.6,323.2 760.1,313.3 763.2,299.1 765.6,281.6 764.5,269.5 765.8,255.0 767.5,239.6 768.3,218.5 765.0,203.7 758.5,184.0 749.4,165.9 743.7,152.9"/>
<polygon fill="#78ff82" points="663.3,152.9 654.2,167.6 650.1,182.4 653.4,198.8 652.1,215.3 653.3,229.1 655.3,243.5 659.6,257.9 664.4,271.3 668.7,280.9 671.8,290.5 678.1,305.8 687.1,316.5 700.3,326.7 702.8,329.0 743.1,329.0 748.1,322.1 755.2,313.3 759.6,299.1 761.8,281.6 760.1,269.5 760.1,255.0 760.1,239.6 757.7,223.5 752.7,207.0 743.7,190.6 730.5,174.2 718.2,163.5 710.8,155.3 707.8,152.9"/>
<polygon fill="#b9ff3c" points="714.8,188.5 700.3,187.3 687.1,197.2 678.9,210.3 672.7,222.0 669.2,233.9 667.3,244.4 666.3,254.0 668.7,267.4 671.6,278.9 675.7,290.0 683.8,304.2 692.9,314.8 702.7,322.2 710.1,326.7 713.3,329.0 731.1,329.0 739.3,321.0 749.2,311.1 754.1,299.1 756.8,281.6 755.7,269.5 756.0,255.9 751.1,239.5 748.6,231.7 742.0,218.5 732.2,207.0 720.7,197.2"/>
<polygon fill="#fff000" points="714.8,216.9 701.9,218.5 692.2,225.5 683.6,232.0 677.8,244.4 674.4,254.0 675.9,267.4 678.8,278.9 683.4,289.0 690.4,298.4 698.6,307.4 707.7,314.8 715.7,321.5 731.6,317.7 741.5,311.1 748.1,299.1 751.3,281.6 750.8,269.5 747.8,255.9 741.2,239.5 737.1,233.3 728.9,225.1 719.0,218.5"/>
<polygon fill="#ffa500" points="714.8,233.3 709.4,234.4 699.9,237.2 690.3,245.4 682.1,253.1 683.1,267.4 686.0,280.9 689.6,287.7 695.3,295.9 702.7,302.5 709.3,306.6 715.7,314.0 730.5,310.0 740.4,300.2 744.8,281.6 744.2,269.5 742.9,265.8 735.5,249.4 723.1,239.6 717.4,233.3"/>
<polygon fill="#ff5f00" points="714.8,245.3 707.5,245.9 699.9,248.3 691.2,255.0 691.2,267.4 692.7,280.9 694.5,286.9 699.4,293.5 706.0,299.2 715.7,307.0 731.1,300.2 737.1,281.6 736.6,269.5 731.3,257.6 715.7,245.3"/>
<polygon fill="#ff1400" points="714.8,254.5 707.5,259.8 699.9,264.6 698.9,273.2 699.4,282.8 702.3,289.5 709.3,294.3 715.3,299.5 728.1,288.8 730.5,280.6 730.0,269.5 724.0,264.2 715.7,255.1"/>
<polygon fill="#a80000" points="715.0,268.5 719.8,279.0 715.8,289.0 710.8,283.5 711.3,276.0"/>
<polyline class="dsh" stroke-dashoffset="13.8" points="154.7,329.0 153.9,323.8 151.4,309.0 149.2,292.0 147.5,275.0 147.3,259.7 150.6,243.3 153.9,232.2 166.2,218.2 178.5,210.8 193.3,205.1 208.9,203.4 223.7,207.5 237.7,213.3 249.2,219.5 256.3,228.9 261.3,240.1 266.2,246.6 270.3,263.0 276.1,279.5 282.6,294.2 285.9,309.0 287.8,329.0"/>
<polyline class="dd" points="339.9,149.9 321.3,159.0 301.5,169.7 283.4,181.2 267.0,192.7 257.1,202.6 248.9,211.6 239.1,222.3 229.2,232.2 223.7,240.0 216.3,249.9 208.1,261.4 201.7,270.5"/>
<polyline class="dsh" stroke-dashoffset="13.8" points="465.5,329.0 464.7,323.8 462.2,309.0 460.0,292.0 458.3,275.0 458.1,259.7 461.4,243.3 464.7,232.2 477.0,218.2 489.3,210.8 504.1,205.1 519.7,203.4 534.5,207.5 548.5,213.3 560.0,219.5 567.1,228.9 572.1,240.1 577.0,246.6 581.1,263.0 586.9,279.5 593.4,294.2 596.7,309.0 598.6,329.0"/>
<polyline class="dd" points="650.7,149.9 632.1,159.0 612.3,169.7 594.2,181.2 577.8,192.7 567.9,202.6 559.7,211.6 549.9,222.3 540.0,232.2 534.5,240.0 527.1,249.9 518.9,261.4 512.5,270.5"/>
<polyline class="dsh" stroke-dashoffset="6" points="-7.4,329.0 -7.9,316.0 -5.7,299.6 -4.6,284.2 -4.1,270.0 -0.2,240.1 5.5,224.0 12.9,210.8 23.6,196.0 38.9,179.6 51.3,169.7 62.3,159.9 72.6,171.4 84.1,182.9 94.0,192.7 99.8,207.5 106.3,222.3 114.7,233.0 124.4,247.8 129.2,262.9 131.7,277.9 133.4,295.0 131.3,309.5 125.7,324.0 123.2,329.0"/>
<polyline class="dsh" stroke-dashoffset="6" points="303.4,329.0 302.9,316.0 305.1,299.6 306.2,284.2 306.7,270.0 310.6,240.1 316.3,224.0 323.7,210.8 334.4,196.0 349.7,179.6 362.1,169.7 373.1,159.9 383.4,171.4 394.9,182.9 404.8,192.7 410.6,207.5 417.1,222.3 425.5,233.0 435.2,247.8 440.0,262.9 442.5,277.9 444.2,295.0 442.1,309.5 436.5,324.0 434.0,329.0"/>
<polyline class="dsh" stroke-dashoffset="6" points="614.2,329.0 613.7,316.0 615.9,299.6 617.0,284.2 617.5,270.0 621.4,240.1 627.1,224.0 634.5,210.8 645.2,196.0 660.5,179.6 672.9,169.7 683.9,159.9 694.2,171.4 705.7,182.9 715.6,192.7 721.4,207.5 727.9,222.3 736.3,233.0 746.0,247.8 750.8,262.9 753.3,277.9 755.0,295.0 752.9,309.5 747.3,324.0 744.8,329.0"/>
<path class="mk" d="M241.3 204.0L256.5 219.2M241.3 219.2L256.5 204.0"/>
<path class="mk" d="M552.1 204.0L567.3 219.2M552.1 219.2L567.3 204.0"/>
<path class="mk2" d="M396.1 284.7L412.1 284.7M404.1 276.7L404.1 292.7"/>
</g>
<rect x="153.50" y="66.0" width="37.34" height="33.0" fill="#0000aa"/>
<rect x="190.54" y="66.0" width="37.34" height="33.0" fill="#0000f0"/>
<rect x="227.58" y="66.0" width="37.34" height="33.0" fill="#003cff"/>
<rect x="264.62" y="66.0" width="37.34" height="33.0" fill="#008cff"/>
<rect x="301.65" y="66.0" width="37.34" height="33.0" fill="#00dcfa"/>
<rect x="338.69" y="66.0" width="37.34" height="33.0" fill="#32ffc8"/>
<rect x="375.73" y="66.0" width="37.34" height="33.0" fill="#78ff82"/>
<rect x="412.77" y="66.0" width="37.34" height="33.0" fill="#b9ff3c"/>
<rect x="449.81" y="66.0" width="37.34" height="33.0" fill="#fff000"/>
<rect x="486.85" y="66.0" width="37.34" height="33.0" fill="#ffa500"/>
<rect x="523.88" y="66.0" width="37.34" height="33.0" fill="#ff5f00"/>
<rect x="560.92" y="66.0" width="37.34" height="33.0" fill="#ff1400"/>
<rect x="597.96" y="66.0" width="37.04" height="33.0" fill="#a80000"/>
<rect x="153.5" y="66.0" width="481.5" height="33.0" fill="none" stroke="#000" stroke-width="1.3"/>
<text transform="translate(127.5 126.2) scale(1.3 1)">−</text><text transform="translate(146.2 126.2) scale(1.080 1)">0.4</text>
<text transform="translate(220.1 126.2) scale(1.3 1)">−</text><text transform="translate(238.8 126.2) scale(1.080 1)">0.2</text>
<text transform="translate(338.6 126.2) scale(1.080 1)" text-anchor="middle">0</text>
<text transform="translate(431.2 126.2) scale(1.080 1)" text-anchor="middle">0.2</text>
<text transform="translate(523.8 126.2) scale(1.080 1)" text-anchor="middle">0.4</text>
<text transform="translate(616.4 126.2) scale(1.080 1)" text-anchor="middle">0.6</text>
<path d="M153.4 99.0v-3.5M246.0 99.0v-3.5M338.6 99.0v-3.5M431.2 99.0v-3.5M523.8 99.0v-3.5M616.4 99.0v-3.5" stroke="#000" stroke-width="1" fill="none"/>
<rect x="93.3" y="16.4" width="621.9" height="312.3" fill="none" stroke="#000" stroke-width="1.1"/>
<path d="M93.3 53.6h5M715.2 53.6h-5M93.3 90.8h5M715.2 90.8h-5M93.3 128.0h5M715.2 128.0h-5M93.3 165.2h5M715.2 165.2h-5M93.3 202.4h5M715.2 202.4h-5M93.3 239.6h5M715.2 239.6h-5M93.3 276.8h5M715.2 276.8h-5M93.3 314.0h5M715.2 314.0h-5M248.9 328.6v-5M248.9 16.4v5M404.3 328.6v-5M404.3 16.4v5M559.7 328.6v-5M559.7 16.4v5" stroke="#000" stroke-width="0.7" fill="none"/>
</g>
<text transform="translate(83.6 24.7) scale(1.080 1)" text-anchor="end">4.0</text>
<text transform="translate(83.6 62.1) scale(1.080 1)" text-anchor="end">3.5</text>
<text transform="translate(83.6 99.5) scale(1.080 1)" text-anchor="end">3.0</text>
<text transform="translate(83.6 136.9) scale(1.080 1)" text-anchor="end">2.5</text>
<text transform="translate(83.6 174.3) scale(1.080 1)" text-anchor="end">2.0</text>
<text transform="translate(83.6 211.7) scale(1.080 1)" text-anchor="end">1.5</text>
<text transform="translate(83.6 249.1) scale(1.080 1)" text-anchor="end">1.0</text>
<text transform="translate(83.6 286.5) scale(1.080 1)" text-anchor="end">0.5</text>
<text transform="translate(83.6 323.9) scale(1.080 1)" text-anchor="end">0</text>
<text transform="translate(93.5 352.0) scale(1.080 1)" text-anchor="middle">2</text>
<text transform="translate(248.9 352.0) scale(1.080 1)" text-anchor="middle">1</text>
<text transform="translate(404.3 352.0) scale(1.080 1)" text-anchor="middle">0</text>
<text transform="translate(544.6 352.0) scale(1.3 1)">−</text><text transform="translate(561.1 352.0) scale(1.080 1)">1</text>
<text transform="translate(699.0 352.0) scale(1.3 1)">−</text><text transform="translate(717.6 352.0) scale(1.080 1)">2</text>
<text transform="translate(9.3 186.3) scale(1.02 1)" class="big"><tspan class="it">y</tspan><tspan dy="-4.5" dx="-0.5" font-size="23">*</tspan></text>
<text transform="translate(83.6 415.1) scale(1.080 1)" text-anchor="end">4.0</text>
<text transform="translate(83.6 452.6) scale(1.080 1)" text-anchor="end">3.5</text>
<text transform="translate(83.6 490.0) scale(1.080 1)" text-anchor="end">3.0</text>
<text transform="translate(83.6 527.5) scale(1.080 1)" text-anchor="end">2.5</text>
<text transform="translate(83.6 564.9) scale(1.080 1)" text-anchor="end">2.0</text>
<text transform="translate(83.6 602.4) scale(1.080 1)" text-anchor="end">1.5</text>
<text transform="translate(83.6 639.8) scale(1.080 1)" text-anchor="end">1.0</text>
<text transform="translate(83.6 677.2) scale(1.080 1)" text-anchor="end">0.5</text>
<text transform="translate(83.6 714.7) scale(1.080 1)" text-anchor="end">0</text>
<text transform="translate(93.5 748.3) scale(1.080 1)" text-anchor="middle">2</text>
<text transform="translate(248.9 748.3) scale(1.080 1)" text-anchor="middle">1</text>
<text transform="translate(404.3 748.3) scale(1.080 1)" text-anchor="middle">0</text>
<text transform="translate(544.6 748.3) scale(1.3 1)">−</text><text transform="translate(561.1 748.3) scale(1.080 1)">1</text>
<text transform="translate(699.0 748.3) scale(1.3 1)">−</text><text transform="translate(717.6 748.3) scale(1.080 1)">2</text>
<text transform="translate(9.3 577.7) scale(1.02 1)" class="big"><tspan class="it">y</tspan><tspan dy="-4.5" dx="-0.5" font-size="23">*</tspan></text>
<text transform="translate(374 782.8) scale(1.3 1)" class="big it">ϕ</text><text class="big" y="782.8" x="393.6 405.6 424.6">(π)</text>
</svg>
</body></html>
